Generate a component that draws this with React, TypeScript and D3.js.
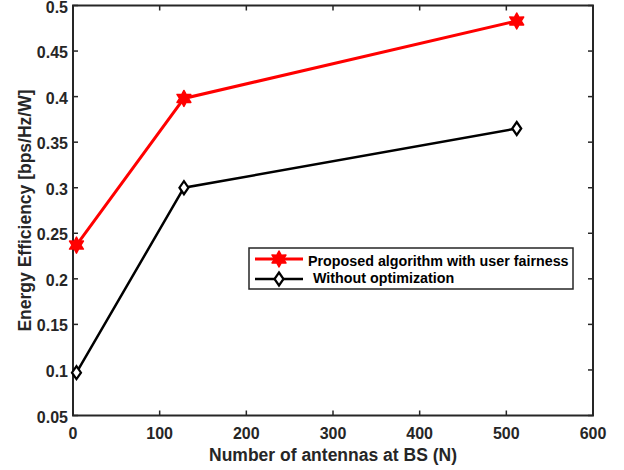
import React from "react";
import { scaleLinear, line } from "d3";

const antennas = [4, 128, 512];
const proposed = [0.237, 0.398, 0.483];
const noOpt = [0.097, 0.3, 0.365];
const xTicks = [0, 100, 200, 300, 400, 500, 600];
const yTicks = [0.05, 0.1, 0.15, 0.2, 0.25, 0.3, 0.35, 0.4, 0.45, 0.5];
const seriesNames = ["Proposed algorithm with user fairness", "Without optimization"];

const W = 624;
const H = 470;
const m = { left: 73, right: 31, top: 5.5, bottom: 54.5 };
const axisColor = "#262626";
const font = "'Liberation Sans', Arial, sans-serif";

function Star({ x, y, r }: { x: number; y: number; r: number }) {
  // six-pointed star (hexagram), like MATLAB's "h" marker
  const pts: string[] = [];
  for (let i = 0; i < 12; i++) {
    const a = (Math.PI / 6) * i - Math.PI / 2;
    const rr = i % 2 === 0 ? r : r * 0.55;
    pts.push(`${x + rr * Math.cos(a)},${y + rr * Math.sin(a)}`);
  }
  return <polygon points={pts.join(" ")} fill="red" stroke="red" strokeWidth={1.5} strokeLinejoin="round" />;
}

function Diamond({ x, y }: { x: number; y: number }) {
  const w = 4.5;
  const h = 6.5;
  return (
    <polygon
      points={`${x},${y - h} ${x + w},${y} ${x},${y + h} ${x - w},${y}`}
      fill="white"
      stroke="black"
      strokeWidth={2.2}
    />
  );
}

export default function App() {
  const x = scaleLinear().domain([0, 600]).range([m.left, W - m.right]);
  const y = scaleLinear().domain([0.05, 0.5]).range([H - m.bottom, m.top]);
  const x0 = x(0), x1 = x(600), y0 = y(0.05), y1 = y(0.5);

  const path = line<[number, number]>()
    .x((d) => x(d[0]))
    .y((d) => y(d[1]));

  const redPts = antennas.map((a, i) => [a, proposed[i]] as [number, number]);
  const blackPts = antennas.map((a, i) => [a, noOpt[i]] as [number, number]);

  const lg = { x: 249, y: 248, w: 324, h: 41 };

  return (
    <svg width={W} height={H} style={{ position: "absolute", left: 0, top: 0, background: "white" }}>
      <rect x={0} y={0} width={W} height={H} fill="white" />
      {/* ticks */}
      {xTicks.map((t) => (
        <g key={"x" + t}>
          <line x1={x(t)} x2={x(t)} y1={y0} y2={y0 - 5} stroke={axisColor} strokeWidth={1.5} />
          <line x1={x(t)} x2={x(t)} y1={y1} y2={y1 + 5} stroke={axisColor} strokeWidth={1.5} />
          <text x={x(t)} y={y0 + 23} textAnchor="middle" fontFamily={font} fontWeight="bold" fontSize={16} fill={axisColor}>
            {t}
          </text>
        </g>
      ))}
      {yTicks.map((t) => (
        <g key={"y" + t}>
          <line x1={x0} x2={x0 + 5} y1={y(t)} y2={y(t)} stroke={axisColor} strokeWidth={1.5} />
          <line x1={x1} x2={x1 - 5} y1={y(t)} y2={y(t)} stroke={axisColor} strokeWidth={1.5} />
          <text x={x0 - 5} y={y(t) + 7} textAnchor="end" fontFamily={font} fontWeight="bold" fontSize={16} fill={axisColor}>
            {String(t)}
          </text>
        </g>
      ))}
      <rect x={x0} y={y1} width={x1 - x0} height={y0 - y1} fill="none" stroke={axisColor} strokeWidth={2} />

      {/* series */}
      <path d={path(redPts) || ""} fill="none" stroke="red" strokeWidth={3} />
      <path d={path(blackPts) || ""} fill="none" stroke="black" strokeWidth={2.5} />
      {redPts.map((p, i) => (
        <Star key={"s" + i} x={x(p[0])} y={y(p[1])} r={8} />
      ))}
      {blackPts.map((p, i) => (
        <Diamond key={"d" + i} x={x(p[0])} y={y(p[1])} />
      ))}

      {/* axis labels */}
      <text x={(x0 + x1) / 2} y={461} textAnchor="middle" fontFamily={font} fontWeight="bold" fontSize={17.5} fill={axisColor}>
        Number of antennas at BS (N)
      </text>
      <text
        transform={`translate(31,${(y0 + y1) / 2}) rotate(-90)`}
        textAnchor="middle"
        fontFamily={font}
        fontWeight="bold"
        fontSize={17.5}
        fill={axisColor}
      >
        Energy Efficiency [bps/Hz/W]
      </text>

      {/* legend */}
      <rect x={lg.x} y={lg.y} width={lg.w} height={lg.h} fill="white" stroke={axisColor} strokeWidth={1.5} />
      <line x1={lg.x + 6} x2={lg.x + 54} y1={lg.y + 11} y2={lg.y + 11} stroke="red" strokeWidth={3} />
      <Star x={lg.x + 30} y={lg.y + 11} r={8} />
      <text x={lg.x + 59} y={lg.y + 18} fontFamily={font} fontWeight="bold" fontSize={14.3} fill="black">
        {seriesNames[0]}
      </text>
      <line x1={lg.x + 6} x2={lg.x + 54} y1={lg.y + 31} y2={lg.y + 31} stroke="black" strokeWidth={2.5} />
      <Diamond x={lg.x + 30} y={lg.y + 31} />
      <text x={lg.x + 64} y={lg.y + 35} fontFamily={font} fontWeight="bold" fontSize={14.3} fill="black">
        {seriesNames[1]}
      </text>
    </svg>
  );
}
